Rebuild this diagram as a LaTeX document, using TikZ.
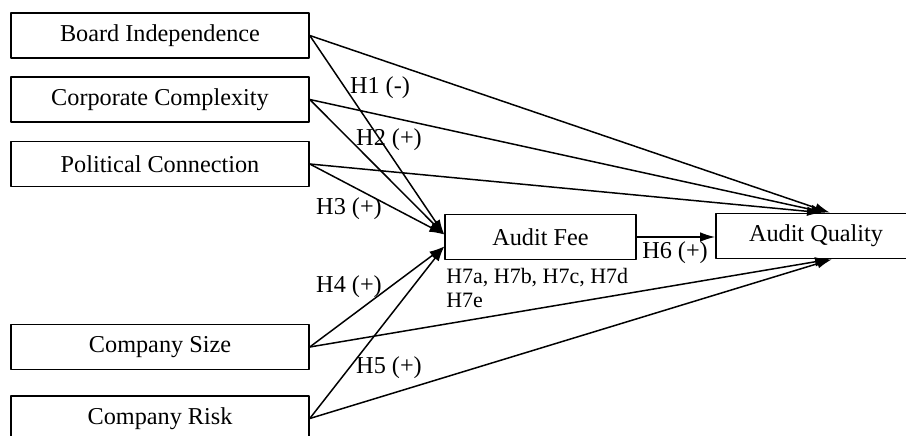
\documentclass[tikz,border=0pt]{standalone}
\usepackage{fontspec}
\setmainfont{Liberation Serif}
\usetikzlibrary{arrows.meta}

\begin{document}
\begin{tikzpicture}
      [x=0.02cm,y=-0.02cm,line cap=round,line join=round,
     %boxes of the variables
     box/.style={draw,line width=0.9pt,minimum width=5.96cm,minimum height=0.9cm,
       inner sep=0pt,font=\fontsize{13.8}{16}\selectfont},
     %hypothesis labels
     hyp/.style={inner sep=0pt,font=\fontsize{13.8}{16}\selectfont},
     arr/.style={-{Latex[length=0.3cm,width=0.19cm]},line width=0.85pt}]

  \useasboundingbox (0,0) rectangle (906,436);
  \clip (0,0) rectangle (906,436);

%independent variables
  \node[box] (bi) at (160,35.5) {Board Independence};
  \node[box] (cc) at (160,99.5) {Corporate Complexity};
  \node[box] (pc) at (160,164) {Political Connection};
  \node[box] (cs) at (160,347) {Company Size};
  \node[box] (cr) at (160,418.5) {Company Risk};

%audit fee and audit quality
  \node[box,minimum width=3.82cm] (af) at (540.5,237) {Audit Fee};
  \node[box,minimum width=4cm] (aq) at (816,236) {Audit Quality};

%hypotheses
  \node[hyp] (h1) at (380,88) {H1 (-)};
  \node[hyp] (h2) at (389,140) {H2 (+)};
  \node[hyp] (h3) at (349,209) {H3 (+)};
  \node[hyp] (h4) at (349,287) {H4 (+)};
  \node[hyp] (h5) at (389,368) {H5 (+)};
  \node[hyp] (h6) at (675,253) {H6 (+)};
  \node[hyp,font=\fontsize{12.5}{13.66}\selectfont,align=left,anchor=north west]
     (h7) at (446,268) {H7a, H7b, H7c, H7d\\H7e};

%paths to audit fee
  \draw[arr] (bi.east) -- ([yshift=0.05cm]af.west);
  \draw[arr] (cc.east) -- ([yshift=0.05cm]af.west);
  \draw[arr] (pc.east) -- ([yshift=0.05cm]af.west);
  \draw[arr] (cs.east) -- ([yshift=-0.19cm]af.west);
  \draw[arr] (cr.east) -- ([yshift=-0.19cm]af.west);

%paths to audit quality
  \draw[arr] (bi.east) -- ([xshift=0.28cm]aq.north);
  \draw[arr] (cc.east) -- ([xshift=0.2cm]aq.north);
  \draw[arr] (pc.east) -- ([xshift=0.12cm]aq.north);
  \draw[arr] (cs.east) -- ([xshift=0.28cm]aq.south);
  \draw[arr] (cr.east) -- ([xshift=0.32cm]aq.south);
  \draw[arr] (af.east) -- (af.east -| aq.west);
\end{tikzpicture}
\end{document}
